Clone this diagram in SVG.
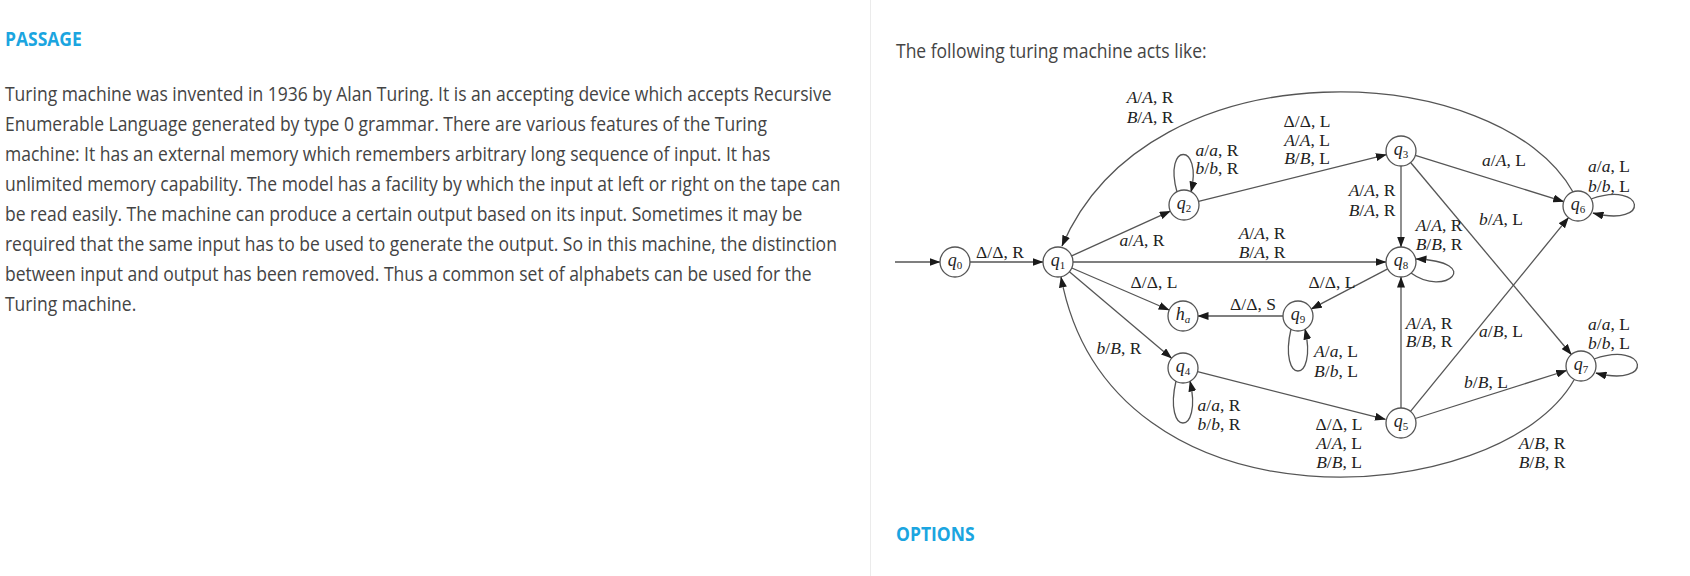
<svg xmlns="http://www.w3.org/2000/svg" width="1690" height="576" viewBox="0 0 1690 576">
<defs>
<marker id="ah" markerWidth="11" markerHeight="8" refX="10.5" refY="4" orient="auto" markerUnits="userSpaceOnUse">
<path d="M0,0 L11,4 L0,8 z" fill="#1a1a1a"/>
</marker>
<style>
.pt{font-family:"Open Sans","Liberation Sans",sans-serif;font-size:20px;fill:#444}
.hd{font-family:"Open Sans","Liberation Sans",sans-serif;font-size:20px;font-weight:bold;fill:#1ba5e0}
.lb{font-family:"Liberation Serif","Times New Roman",serif;font-size:17.5px;fill:#222;text-anchor:middle}
.i{font-style:italic}
.nd circle{fill:#fff;stroke:#555;stroke-width:1.3}
.nd text{font-family:"Liberation Serif","Times New Roman",serif;font-size:18px;fill:#222;text-anchor:middle}
.sub{font-size:11px}
#connectors path,#connectors line{fill:none;stroke:#555;stroke-width:1.3;marker-end:url(#ah)}
</style>
</defs>
<rect width="1690" height="576" fill="#fff"/>
<line x1="870.5" y1="0" x2="870.5" y2="576" stroke="#ebebeb" stroke-width="1"/>

<g id="passage" transform="scale(0.875 1)">
<text class="hd" x="5.7" y="46.5">PASSAGE</text>
<text class="pt" x="5.7" y="101">Turing machine was invented in 1936 by Alan Turing. It is an accepting device which accepts Recursive</text>
<text class="pt" x="5.7" y="131">Enumerable Language generated by type 0 grammar. There are various features of the Turing</text>
<text class="pt" x="5.7" y="161">machine: It has an external memory which remembers arbitrary long sequence of input. It has</text>
<text class="pt" x="5.7" y="191">unlimited memory capability. The model has a facility by which the input at left or right on the tape can</text>
<text class="pt" x="5.7" y="221">be read easily. The machine can produce a certain output based on its input. Sometimes it may be</text>
<text class="pt" x="5.7" y="251">required that the same input has to be used to generate the output. So in this machine, the distinction</text>
<text class="pt" x="5.7" y="281">between input and output has been removed. Thus a common set of alphabets can be used for the</text>
<text class="pt" x="5.7" y="311">Turing machine.</text>
<text class="pt" x="1024" y="58.3">The following turing machine acts like:</text>
<text class="hd" x="1024" y="540.7">OPTIONS</text>
</g>

<g id="connectors">
<line x1="895" y1="262" x2="940" y2="262"/>
<line x1="970" y1="262" x2="1043" y2="262"/>
<line x1="1071.7" y1="255.9" x2="1170.3" y2="211.1"/>
<line x1="1198.6" y1="201.4" x2="1386.4" y2="154.6"/>
<line x1="1415.3" y1="155.4" x2="1563.7" y2="201.6"/>
<line x1="1401" y1="166" x2="1401" y2="247"/>
<line x1="1410.6" y1="162.5" x2="1571.4" y2="354.5"/>
<line x1="1073" y1="262" x2="1386" y2="262"/>
<line x1="1387.7" y1="268.9" x2="1311.3" y2="308.9"/>
<line x1="1283" y1="316" x2="1198" y2="316"/>
<line x1="1071.8" y1="268" x2="1169.2" y2="310"/>
<line x1="1069.4" y1="271.7" x2="1171.6" y2="358.3"/>
<line x1="1197.5" y1="371.7" x2="1385.5" y2="419.3"/>
<line x1="1401" y1="408" x2="1401" y2="277"/>
<line x1="1410.5" y1="411.4" x2="1568.5" y2="217.6"/>
<line x1="1415.3" y1="418.5" x2="1566.7" y2="370.5"/>
<path d="M1573,192 C1500,60 1150,40 1062,246"/>
<path d="M1574,380 C1500,510 1110,540 1061,277"/>
<path d="M1177,192 C1163,142 1203,142 1191,192"/>
<path d="M1291,329 C1278,385 1318,385 1305,329"/>
<path d="M1176,381 C1163,437 1203,437 1190,381"/>
<path d="M1591,199 C1645,180 1652,228 1593,213"/>
<path d="M1594,359 C1648,340 1655,388 1596,373"/>
<path d="M1411,273 C1445,298 1485,262 1416,259"/>
</g>

<g id="labels">
<text class="lb" x="1000" y="257.5">Δ/Δ, R</text>
<text class="lb" x="1142" y="245.5"><tspan class="i">a</tspan>/<tspan class="i">A</tspan>, R</text>
<text class="lb" x="1150" y="102.5"><tspan class="i">A</tspan>/<tspan class="i">A</tspan>, R</text>
<text class="lb" x="1150" y="122.5"><tspan class="i">B</tspan>/<tspan class="i">A</tspan>, R</text>
<text class="lb" x="1217" y="156"><tspan class="i">a</tspan>/<tspan class="i">a</tspan>, R</text>
<text class="lb" x="1217" y="174"><tspan class="i">b</tspan>/<tspan class="i">b</tspan>, R</text>
<text class="lb" x="1307" y="127">Δ/Δ, L</text>
<text class="lb" x="1307" y="145.5"><tspan class="i">A</tspan>/<tspan class="i">A</tspan>, L</text>
<text class="lb" x="1307" y="164"><tspan class="i">B</tspan>/<tspan class="i">B</tspan>, L</text>
<text class="lb" x="1504" y="165.5"><tspan class="i">a</tspan>/<tspan class="i">A</tspan>, L</text>
<text class="lb" x="1609" y="171.5"><tspan class="i">a</tspan>/<tspan class="i">a</tspan>, L</text>
<text class="lb" x="1609" y="191.5"><tspan class="i">b</tspan>/<tspan class="i">b</tspan>, L</text>
<text class="lb" x="1372" y="195.5"><tspan class="i">A</tspan>/<tspan class="i">A</tspan>, R</text>
<text class="lb" x="1372" y="215.5"><tspan class="i">B</tspan>/<tspan class="i">A</tspan>, R</text>
<text class="lb" x="1501" y="224.5"><tspan class="i">b</tspan>/<tspan class="i">A</tspan>, L</text>
<text class="lb" x="1439" y="231"><tspan class="i">A</tspan>/<tspan class="i">A</tspan>, R</text>
<text class="lb" x="1439" y="249.5"><tspan class="i">B</tspan>/<tspan class="i">B</tspan>, R</text>
<text class="lb" x="1262" y="238.5"><tspan class="i">A</tspan>/<tspan class="i">A</tspan>, R</text>
<text class="lb" x="1262" y="257.5"><tspan class="i">B</tspan>/<tspan class="i">A</tspan>, R</text>
<text class="lb" x="1154" y="288">Δ/Δ, L</text>
<text class="lb" x="1332" y="288">Δ/Δ, L</text>
<text class="lb" x="1253" y="309.5">Δ/Δ, S</text>
<text class="lb" x="1336" y="357"><tspan class="i">A</tspan>/<tspan class="i">a</tspan>, L</text>
<text class="lb" x="1336" y="376.5"><tspan class="i">B</tspan>/<tspan class="i">b</tspan>, L</text>
<text class="lb" x="1119" y="353.5"><tspan class="i">b</tspan>/<tspan class="i">B</tspan>, R</text>
<text class="lb" x="1219" y="410.5"><tspan class="i">a</tspan>/<tspan class="i">a</tspan>, R</text>
<text class="lb" x="1219" y="429.5"><tspan class="i">b</tspan>/<tspan class="i">b</tspan>, R</text>
<text class="lb" x="1339" y="429.5">Δ/Δ, L</text>
<text class="lb" x="1339" y="448.5"><tspan class="i">A</tspan>/<tspan class="i">A</tspan>, L</text>
<text class="lb" x="1339" y="467.5"><tspan class="i">B</tspan>/<tspan class="i">B</tspan>, L</text>
<text class="lb" x="1429" y="328.5"><tspan class="i">A</tspan>/<tspan class="i">A</tspan>, R</text>
<text class="lb" x="1429" y="347"><tspan class="i">B</tspan>/<tspan class="i">B</tspan>, R</text>
<text class="lb" x="1501" y="337"><tspan class="i">a</tspan>/<tspan class="i">B</tspan>, L</text>
<text class="lb" x="1486" y="388"><tspan class="i">b</tspan>/<tspan class="i">B</tspan>, L</text>
<text class="lb" x="1609" y="329.5"><tspan class="i">a</tspan>/<tspan class="i">a</tspan>, L</text>
<text class="lb" x="1609" y="348.5"><tspan class="i">b</tspan>/<tspan class="i">b</tspan>, L</text>
<text class="lb" x="1542" y="448.5"><tspan class="i">A</tspan>/<tspan class="i">B</tspan>, R</text>
<text class="lb" x="1542" y="468"><tspan class="i">B</tspan>/<tspan class="i">B</tspan>, R</text>
</g>

<g id="q0" class="nd"><circle cx="955" cy="262" r="15"/><text x="955" y="266"><tspan class="i">q</tspan><tspan class="sub" dy="3">0</tspan></text></g>
<g id="q1" class="nd"><circle cx="1058" cy="262" r="15"/><text x="1058" y="266"><tspan class="i">q</tspan><tspan class="sub" dy="3">1</tspan></text></g>
<g id="q2" class="nd"><circle cx="1184" cy="205" r="15"/><text x="1184" y="209"><tspan class="i">q</tspan><tspan class="sub" dy="3">2</tspan></text></g>
<g id="q3" class="nd"><circle cx="1401" cy="151" r="15"/><text x="1401" y="155"><tspan class="i">q</tspan><tspan class="sub" dy="3">3</tspan></text></g>
<g id="q4" class="nd"><circle cx="1183" cy="368" r="15"/><text x="1183" y="372"><tspan class="i">q</tspan><tspan class="sub" dy="3">4</tspan></text></g>
<g id="q5" class="nd"><circle cx="1401" cy="423" r="15"/><text x="1401" y="427"><tspan class="i">q</tspan><tspan class="sub" dy="3">5</tspan></text></g>
<g id="q6" class="nd"><circle cx="1578" cy="206" r="15"/><text x="1578" y="210"><tspan class="i">q</tspan><tspan class="sub" dy="3">6</tspan></text></g>
<g id="q7" class="nd"><circle cx="1581" cy="366" r="15"/><text x="1581" y="370"><tspan class="i">q</tspan><tspan class="sub" dy="3">7</tspan></text></g>
<g id="q8" class="nd"><circle cx="1401" cy="262" r="15"/><text x="1401" y="266"><tspan class="i">q</tspan><tspan class="sub" dy="3">8</tspan></text></g>
<g id="q9" class="nd"><circle cx="1298" cy="316" r="15"/><text x="1298" y="320"><tspan class="i">q</tspan><tspan class="sub" dy="3">9</tspan></text></g>
<g id="ha" class="nd"><circle cx="1183" cy="316" r="15"/><text x="1183" y="320"><tspan class="i">h</tspan><tspan class="sub i" dy="3">a</tspan></text></g>
</svg>
